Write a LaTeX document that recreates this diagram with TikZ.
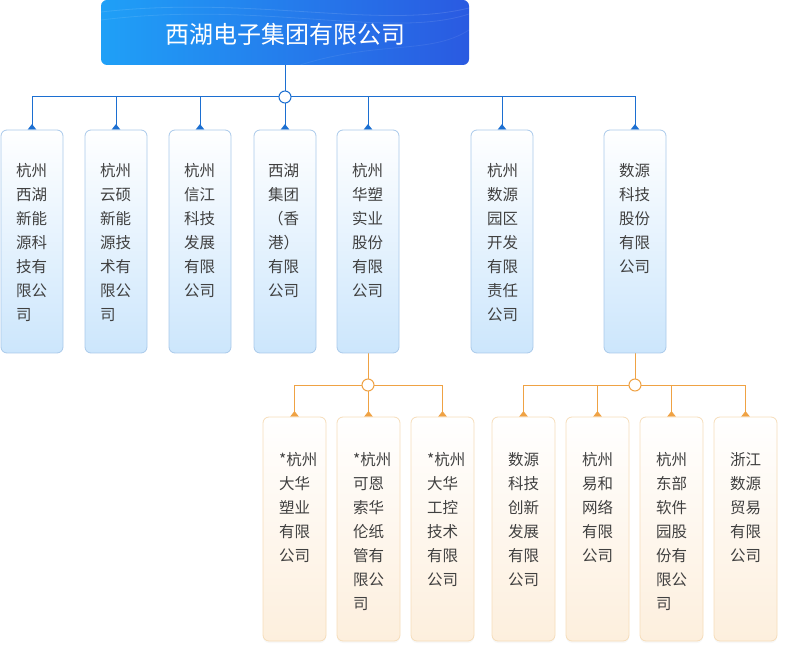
\documentclass[tikz,border=0pt]{standalone}
\usepackage{fontspec}
\newfontfamily\cjk{Noto Sans CJK SC}
\usetikzlibrary{arrows.meta,shadows}
\definecolor{lineblue}{HTML}{1C6FD1}
\definecolor{lineorange}{HTML}{EFA244}
\definecolor{boxblue}{HTML}{A9C9EA}
\definecolor{fillblue}{HTML}{CCE6FC}
\definecolor{boxorange}{HTML}{F6DDBA}
\definecolor{fillorange}{HTML}{FDEFDD}
\definecolor{textgray}{HTML}{404040}
\definecolor{titleL}{HTML}{1FA0F7}
\definecolor{titleR}{HTML}{2A5AE1}
\pgfdeclarelayer{bg}
\pgfsetlayers{bg,main}
\newcommand{\colstack}[1]{\parbox[t]{44pt}{#1}}
\begin{document}
\begin{tikzpicture}[x=1pt,y=-1pt,
  titlebox/.style={rounded corners=6pt, left color=titleL, right color=titleR, minimum width=368pt, minimum height=65pt, inner sep=0pt},
  bluebox/.style={draw=boxblue, line width=0.8pt, rounded corners=6pt, top color=white, bottom color=fillblue, minimum width=62pt, minimum height=223pt, inner sep=0pt},
  orangebox/.style={draw=boxorange, line width=0.8pt, rounded corners=6pt, top color=white, bottom color=fillorange, minimum width=63pt, minimum height=224pt, inner sep=0pt, drop shadow={opacity=0.06, shadow xshift=0pt, shadow yshift=-2pt}},
  lbl/.style={anchor=base west, inner sep=0pt, font=\cjk\fontsize{15.5}{24}\selectfont, text=textgray},
  hub/.style={circle, fill=white, line width=1pt, minimum size=12pt, inner sep=0pt},
  bconn/.style={draw=lineblue, line width=1pt, -{Triangle[reversed,length=5.5pt,width=8.5pt]}},
  oconn/.style={draw=lineorange, line width=1pt, -{Triangle[reversed,length=5.5pt,width=8.5pt]}},
]
\useasboundingbox (0,0) rectangle (796,663);

% title
\node[titlebox] (top) at (285,32.5) {};
\begin{scope}
\clip[rounded corners=6pt] (101,0) rectangle (469,65);
\draw[white, opacity=0.12, line width=0.8pt] (101,12) .. controls (250,-5) and (380,30) .. (469,8);
\draw[white, opacity=0.10, line width=0.8pt] (101,20) .. controls (260,0) and (390,40) .. (469,14);
\draw[white, opacity=0.08, line width=0.8pt] (300,65) .. controls (380,40) and (430,55) .. (469,30);
\end{scope}
\node[font=\cjk\fontsize{24}{28}\selectfont, text=white, inner sep=0pt] (toptext) at (285,34.5) {西湖电子集团有限公司};

% level 1 boxes
\node[bluebox] (b1) at (32,241.5) {};
\node[bluebox] (b2) at (116,241.5) {};
\node[bluebox] (b3) at (200,241.5) {};
\node[bluebox] (b4) at (285,241.5) {};
\node[bluebox] (b5) at (368,241.5) {};
\node[bluebox] (b6) at (502,241.5) {};
\node[bluebox] (b7) at (635,241.5) {};

\node[lbl] (t1) at (16,176.5) {\colstack{杭州\\西湖\\新能\\源科\\技有\\限公\\司}};
\node[lbl] (t2) at (100,176.5) {\colstack{杭州\\云硕\\新能\\源技\\术有\\限公\\司}};
\node[lbl] (t3) at (184,176.5) {\colstack{杭州\\信江\\科技\\发展\\有限\\公司}};
\node[lbl] (t4) at (268,176.5) {\colstack{西湖\\集团\\（香\\港）\\有限\\公司}};
\node[lbl] (t5) at (352,176.5) {\colstack{杭州\\华塑\\实业\\股份\\有限\\公司}};
\node[lbl] (t6) at (487,176.5) {\colstack{杭州\\数源\\园区\\开发\\有限\\责任\\公司}};
\node[lbl] (t7) at (619,176.5) {\colstack{数源\\科技\\股份\\有限\\公司}};

% level 2 boxes
\node[orangebox] (c1) at (294.5,529) {};
\node[orangebox] (c2) at (368.5,529) {};
\node[orangebox] (c3) at (442.5,529) {};
\node[orangebox] (c4) at (523.5,529) {};
\node[orangebox] (c5) at (597.5,529) {};
\node[orangebox] (c6) at (671.5,529) {};
\node[orangebox] (c7) at (745.5,529) {};

\node[lbl] (u1) at (279,465.5) {\colstack{*杭州\\大华\\塑业\\有限\\公司}};
\node[lbl] (u2) at (353,465.5) {\colstack{*杭州\\可恩\\索华\\伦纸\\管有\\限公\\司}};
\node[lbl] (u3) at (427,465.5) {\colstack{*杭州\\大华\\工控\\技术\\有限\\公司}};
\node[lbl] (u4) at (508,465.5) {\colstack{数源\\科技\\创新\\发展\\有限\\公司}};
\node[lbl] (u5) at (582,465.5) {\colstack{杭州\\易和\\网络\\有限\\公司}};
\node[lbl] (u6) at (656,465.5) {\colstack{杭州\\东部\\软件\\园股\\份有\\限公\\司}};
\node[lbl] (u7) at (730,465.5) {\colstack{浙江\\数源\\贸易\\有限\\公司}};

% hubs
\node[hub, draw=lineblue] (h1) at (285,97) {};
\node[hub, draw=lineorange] (h2) at (368,385) {};
\node[hub, draw=lineorange] (h3) at (635,385) {};

\begin{pgfonlayer}{bg}
\draw[draw=lineblue, line width=1pt] (top.south) -- (h1.center);
\foreach \b in {b1,b2,b3,b4,b5,b6,b7}{
  \draw[bconn] (h1.center) -| (\b.north);
}
\draw[draw=lineorange, line width=1pt] (b5.south) -- (h2.center);
\foreach \b in {c1,c2,c3}{
  \draw[oconn] (h2.center) -| (\b.north);
}
\draw[draw=lineorange, line width=1pt] (b7.south) -- (h3.center);
\foreach \b in {c4,c5,c6,c7}{
  \draw[oconn] (h3.center) -| (\b.north);
}
\end{pgfonlayer}
\end{tikzpicture}
\end{document}
